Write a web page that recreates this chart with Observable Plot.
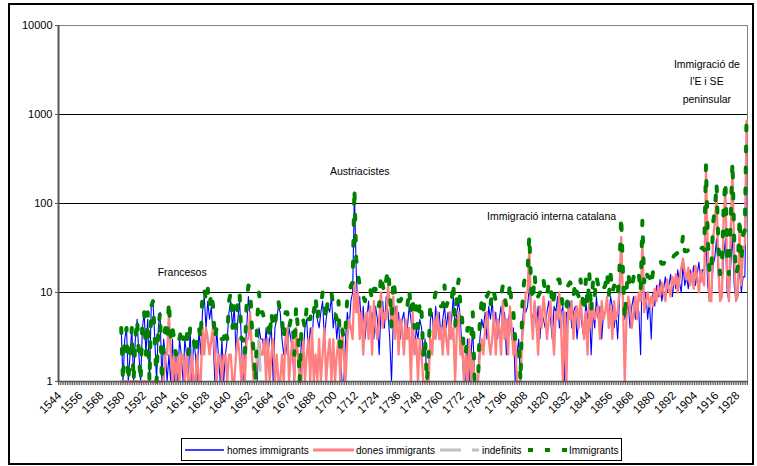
<!DOCTYPE html>
<html>
<head>
<meta charset="utf-8">
<script src="https://cdn.jsdelivr.net/npm/d3@7"></script>
<script src="https://cdn.jsdelivr.net/npm/@observablehq/plot@0.6"></script>
<style>
  body { margin: 0; background: #fff; font-family: "Liberation Sans", Arial, sans-serif; }
  #frame { position: absolute; left: 8px; top: 3px; width: 746px; height: 462px; border: 2px solid #000; box-sizing: border-box; }
  #chart { position: absolute; left: 0; top: 0; }
  #legend { position: absolute; left: 181px; top: 438px; width: 441px; height: 23px; border: 1px solid #000; box-sizing: border-box; background: #fff; }
  #legend svg { position: absolute; left: 0; top: 0; }
</style>
</head>
<body>
<div id="frame"></div>
<div id="chart"></div>
<div id="legend"></div>
<script>
// ---- data ----
const firstYear = 1579;

const homes = [
  4,1,3,4,1,2,4,1,3,5,      // 1579
  2,1,4,6,2,5,1,7,8,3,      // 1589
  1,4,6,1,3,2,1,2,1,3,      // 1599
  1,2,1,3,2,1,3,2,1,4,      // 1609
  1,3,2,1,4,2,6,9,4,8,      // 1619
  5,7,3,1,4,2,1,3,1,2,      // 1629
  3,6,8,4,7,2,5,8,3,1,      // 1639
  2,4,9,5,2,1,0,1,4,3,      // 1649
  3,2,4,2,3,4,1,4,5,7,      // 1659
  6,3,2,3,2,4,3,2,1,3,      // 1669
  2,0,3,2,4,5,2,4,3,6,      // 1679
  7,5,4,6,8,3,5,7,6,9,      // 1689
  4,6,3,5,2,0,1,3,6,4,      // 1699
  8,10,135,18,6,9,4,7,3,5,  // 1709
  8,4,6,3,7,5,2,6,8,4,      // 1719
  9,6,3,0,5,7,4,6,3,5,      // 1729
  6,3,4,7,5,3,2,4,3,5,      // 1739
  4,2,3,1,1,5,6,3,7,4,      // 1749
  6,3,5,7,4,6,3,5,9,4,      // 1759
  6,8,5,2,1,0,3,1,2,4,      // 1769
  1,0,1,3,5,4,6,3,7,5,      // 1779
  8,4,6,3,5,7,4,6,2,5,      // 1789
  6,3,4,0,2,3,1,4,8,6,      // 1799
  7,12,6,5,8,4,7,3,6,5,     // 1809
  4,6,8,5,3,7,6,9,4,6,      // 1819
  7,0,6,5,8,4,6,7,3,5,      // 1829
  6,4,3,8,5,7,2,6,4,9,      // 1839
  5,7,3,6,6,8,5,9,7,4,      // 1849
  6,3,8,30,9,5,6,8,4,7,     // 1859
  9,5,8,6,2,26,7,10,5,8,    // 1869
  3,10,7,12,9,14,8,11,15,10,   // 1879
  12,16,9,14,11,18,13,10,20,12, // 1889
  15,11,18,14,20,12,16,22,13,18, // 1899
  18,40,12,8,9,20,25,40,15,8,  // 1909
  10,25,40,10,8,20,45,12,8,9,  // 1919
  20,10,15,15,220              // 1929
];

const dones = [
  0,0,0,0,0,0,0,0,0,0,
  0,0,1,0,0,1,0,0,0,0,
  0,0,0,0,0,2,2,6,2,1,
  2,0,2,0,2,2,0,2,1,0,
  2,0,0,2,0,1,4,2,4,3,
  2,3,4,2,0,2,2,0,2,2,
  0,2,2,0,0,2,3,2,0,2,
  0,3,3,6,2,1,0,2,3,2,
  2,3,0,3,0,2,3,0,2,1,
  0,2,1,3,4,0,2,3,1,4,
  2,0,1,3,0,2,3,1,4,0,
  2,0,3,1,2,4,0,2,3,1,
  3,0,2,3,0,4,2,1,3,5,
  4,3,13,6,10,3,6,2,5,6,
  3,7,2,8,4,3,5,10,4,6,
  5,12,8,4,9,3,7,2,5,4,
  2,5,3,4,1,6,2,3,1,3,
  2,0,0,0,1,3,2,5,3,6,
  3,4,2,5,3,2,6,3,4,0,
  4,6,2,3,1,2,1,3,1,2,
  0,1,0,2,3,2,4,6,3,2,
  3,6,2,5,4,2,8,3,5,2,
  7,4,2,3,1,0,0,3,5,10,
  10,32,6,3,8,5,2,7,4,9,
  6,3,5,8,4,2,6,5,10,4,
  0,6,0,7,5,8,3,6,7,4,
  8,5,3,6,2,9,4,7,5,6,
  7,3,8,5,6,9,4,7,3,8,
  5,6,10,42,8,0,5,9,7,4,
  6,9,5,10,8,38,6,8,10,7,
  9,7,11,8,12,9,13,10,8,14,
  11,9,15,12,16,10,14,19,24,17,
  14,19,12,17,11,20,15,10,18,14,
  12,230,30,8,8,40,60,130,20,8,
  9,70,140,15,8,50,250,25,8,10,
  50,12,30,35,850
];

const indefYears  = [1649,1650,1651,1652,1653,1654,1655,1656,1657,1658,1659,1660,1661,1662];
const indefValues = [0,1,0,0,0,0,1,2,3,1,1,0,1,0];

const immigrants = [
  4,1,3,4,1,2,4,1,3,5,
  2,1,5,6,2,6,1,7,8,3,
  1,4,6,1,3,4,3,8,3,4,
  3,2,3,3,4,3,3,4,2,4,
  3,3,2,3,4,3,10,11,8,11,
  7,10,7,3,4,4,3,3,3,4,
  3,8,10,4,7,4,8,10,3,3,
  2,8,12,11,4,2,1,5,10,6,
  6,5,5,5,3,6,4,4,7,8,
  6,5,3,6,6,4,5,5,2,7,
  4,0,4,5,4,7,5,5,7,6,
  9,5,7,7,10,7,5,9,9,10,
  7,6,5,8,2,4,3,4,9,9,
  12,13,148,24,16,12,10,9,8,11,
  11,11,8,11,11,8,7,16,12,10,
  14,18,11,4,14,10,11,8,8,9,
  8,8,7,11,6,9,4,7,4,8,
  6,2,3,1,2,8,8,8,10,10,
  9,7,7,12,7,8,9,8,13,4,
  10,14,7,5,2,2,4,4,3,6,
  1,1,1,5,8,6,10,9,10,7,
  11,10,8,8,9,9,12,9,7,7,
  13,7,6,3,3,3,1,7,13,16,
  17,44,12,8,16,9,9,10,10,14,
  10,9,13,13,7,9,12,14,14,10,
  7,6,6,12,13,12,9,13,10,9,
  14,9,6,14,7,16,6,13,9,15,
  12,10,11,11,12,17,9,16,10,12,
  11,9,18,72,17,5,11,17,11,11,
  15,14,13,16,10,64,13,18,15,15,
  12,17,18,20,21,23,21,21,23,24,
  23,25,24,26,27,28,27,29,44,29,
  29,30,30,31,31,32,31,32,31,32,
  30,270,42,16,17,60,85,170,35,16,
  19,95,180,25,16,70,295,37,16,19,
  70,22,45,50,1070
];

const axisFirstYear = 1544;
const axisLastYear = 1933;
const xTickLabels = [1544,1556,1568,1580,1592,1604,1616,1628,1640,1652,1664,1676,1688,1700,1712,1724,1736,1748,1760,1772,1784,1796,1808,1820,1832,1844,1856,1868,1880,1892,1904,1916,1928];
const yTicks = [1,10,100,1000,10000];

const annLabels = ["Francesos","Austriacistes","Immigració interna catalana","Immigració de\nl'E i SE\npeninsular"];
const annYears  = [1613.5, 1714, 1822.6, 1910.5];
const annValues = [17.7, 240, 76, 2450];

// ---- build tables ----
const rows = homes.map((h, i) => ({year: firstYear + i, homes: h, dones: dones[i], total: immigrants[i]}));
const indefRows = indefYears.map((y, i) => ({year: y, v: indefValues[i]}));
const annotations = annLabels.map((l, i) => ({label: l, year: annYears[i], value: annValues[i]}));
const minorTicks = d3.range(axisFirstYear - 0.5, axisLastYear + 1, 1);
const floor1 = v => Math.max(v, 1);

const chart = Plot.plot({
  width: 757,
  height: 430,
  marginLeft: 58,
  marginRight: 10,
  marginTop: 25,
  marginBottom: 49,
  style: {fontFamily: "Liberation Sans, Arial, sans-serif", fontSize: "11px", color: "#000", background: "transparent"},
  x: {type: "linear", domain: [axisFirstYear - 0.5, axisLastYear + 0.5]},
  y: {type: "log", domain: [1, 10000]},
  marks: [
    Plot.ruleY(yTicks.slice(1, 4), {stroke: "#000", strokeWidth: 1}),
    Plot.frame({stroke: "#808080"}),
    Plot.line(rows, {x: "year", y: d => floor1(d.homes), stroke: "#0000ff", strokeWidth: 1.1}),
    Plot.line(rows, {x: "year", y: d => floor1(d.dones), stroke: "#ff8080", strokeWidth: 2.3}),
    Plot.line(indefRows, {x: "year", y: d => floor1(d.v), stroke: "#c0c0c0", strokeWidth: 2.6, strokeDasharray: "21,11"}),
    Plot.line(rows, {x: "year", y: d => floor1(d.total), stroke: "#008000", strokeWidth: 4, strokeDasharray: "5,16"}),
    Plot.ruleX([axisFirstYear - 0.5], {stroke: "#555", strokeWidth: 2}),
    Plot.ruleY([1], {stroke: "#555", strokeWidth: 1.5}),
    Plot.axisY({ticks: yTicks, tickFormat: d => String(d), tickSize: 3, tickPadding: 3, label: null, stroke: "#555"}),
    Plot.axisX({ticks: minorTicks, tickFormat: () => "", tickSize: 4, label: null, stroke: "#555"}),
    Plot.axisX({ticks: xTickLabels, tickFormat: d => String(d), tickSize: 0, tickRotate: -45, tickPadding: 12, fontSize: 11.5, label: null}),
    Plot.text(annotations, {x: "year", y: "value", text: "label", fontSize: 10.5, lineHeight: 1.65, fill: "#000"})
  ]
});
document.getElementById("chart").appendChild(chart);

// ---- legend ----
const legendItems = [
  {label: "homes immigrants", color: "#0000ff", width: 1.5, dash: null, x0: 3, x1: 42, tx: 45},
  {label: "dones immigrants", color: "#ff8080", width: 3, dash: null, x0: 131, x1: 172, tx: 174},
  {label: "indefinits", color: "#c0c0c0", width: 3, dash: "21,11", x0: 258, x1: 297, tx: 300},
  {label: "Immigrants", color: "#008000", width: 4, dash: "5,12", x0: 346, x1: 385, tx: 387}
];
const lsvg = d3.select("#legend").append("svg").attr("width", 441).attr("height", 23);
legendItems.forEach(it => {
  const ln = lsvg.append("line").attr("x1", it.x0).attr("x2", it.x1).attr("y1", 11).attr("y2", 11)
    .attr("stroke", it.color).attr("stroke-width", it.width);
  if (it.dash) ln.attr("stroke-dasharray", it.dash);
  lsvg.append("text").attr("x", it.tx).attr("y", 15).text(it.label)
    .attr("font-family", "Liberation Sans, Arial, sans-serif").attr("font-size", 10).attr("fill", "#000");
});
</script>
</body>
</html>
